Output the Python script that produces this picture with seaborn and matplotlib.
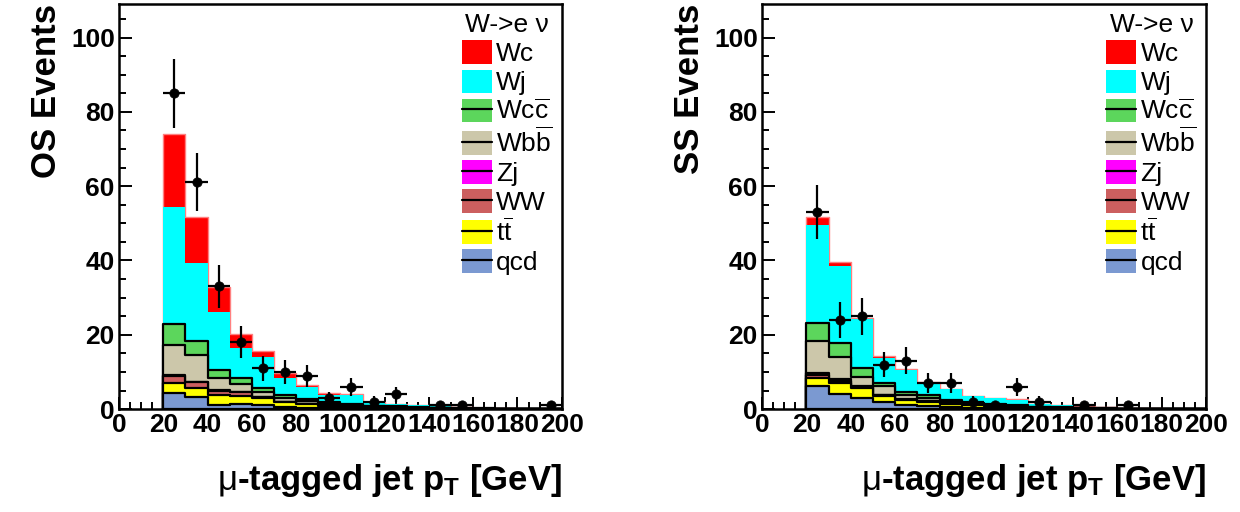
"""
OS / SS mu-tagged jet pT, W->e nu channel, stacked MC + data.
"""

import numpy as np
import matplotlib
matplotlib.use("Agg")
import matplotlib.pyplot as plt
import seaborn as sns
from matplotlib.patches import Patch
from matplotlib.lines import Line2D
from matplotlib.ticker import MultipleLocator

# ── Data ────────────────────────────────────────────────────────────────────
bin_edges = [20, 30, 40, 50, 60, 70, 80, 90, 100, 110, 120, 130, 140, 150,
             160, 170, 180, 190, 200]
bin_centers = [25, 35, 45, 55, 65, 75, 85, 95, 105, 115, 125, 135, 145, 155,
               165, 175, 185, 195]

# OS, per process (bottom -> top of the stack)
qcd_os = [4.2, 3.2, 1.1, 1.3, 1.0, 0.5, 0.4, 0.3, 0.2, 0.1, 0.1, 0.05, 0.05, 0.02, 0.02, 0.01, 0.01, 0.01]
tt_os  = [2.7, 2.6, 2.7, 2.2, 2.0, 1.3, 0.9, 0.6, 0.5, 0.3, 0.2, 0.15, 0.1, 0.08, 0.05, 0.04, 0.03, 0.02]
ww_os  = [2.0, 1.4, 1.1, 1.0, 0.2, 0.1, 0.1, 0.1, 0.1, 0.05, 0.05, 0.05, 0.05, 0.02, 0.01, 0.01, 0.0, 0.0]
zj_os  = [0.3, 0.2, 0.2, 0.2, 0.1, 0.1, 0.0, 0.0, 0.0, 0.0, 0.0, 0.0, 0.0, 0.0, 0.0, 0.0, 0.0, 0.0]
wbb_os = [8.0, 7.1, 3.2, 2.0, 1.4, 0.9, 0.8, 0.5, 0.4, 0.3, 0.2, 0.15, 0.1, 0.08, 0.05, 0.03, 0.02, 0.02]
wcc_os = [5.7, 3.9, 2.2, 1.7, 1.0, 0.9, 0.4, 0.3, 0.3, 0.2, 0.15, 0.1, 0.1, 0.05, 0.03, 0.02, 0.02, 0.01]
wj_os  = [31.5, 21.0, 15.5, 8.1, 8.2, 4.5, 3.4, 2.1, 2.2, 0.9, 0.55, 0.5, 0.35, 0.2, 0.12, 0.08, 0.06, 0.04]
wc_os  = [19.7, 12.3, 6.8, 3.7, 1.7, 1.3, 0.5, 0.3, 0.3, 0.15, 0.1, 0.1, 0.05, 0.05, 0.02, 0.01, 0.01, 0.0]

# SS, per process
qcd_ss = [6.2, 4.0, 2.9, 2.0, 1.1, 0.8, 0.6, 0.4, 0.3, 0.2, 0.1, 0.1, 0.05, 0.03, 0.02, 0.01, 0.01, 0.01]
tt_ss  = [2.3, 3.1, 2.7, 1.5, 1.3, 1.2, 0.8, 0.6, 0.4, 0.3, 0.2, 0.15, 0.1, 0.07, 0.05, 0.03, 0.02, 0.01]
ww_ss  = [0.8, 0.4, 0.3, 0.2, 0.1, 0.1, 0.05, 0.05, 0.05, 0.05, 0.02, 0.02, 0.01, 0.01, 0.0, 0.0, 0.0, 0.0]
zj_ss  = [0.5, 0.5, 0.2, 0.1, 0.1, 0.1, 0.05, 0.05, 0.05, 0.05, 0.03, 0.03, 0.02, 0.01, 0.01, 0.0, 0.0, 0.0]
wbb_ss = [8.6, 5.9, 2.6, 2.4, 1.2, 0.9, 0.5, 0.3, 0.3, 0.2, 0.15, 0.1, 0.07, 0.05, 0.03, 0.02, 0.01, 0.01]
wcc_ss = [4.9, 4.0, 2.3, 0.9, 0.7, 0.7, 0.4, 0.3, 0.2, 0.2, 0.1, 0.1, 0.05, 0.03, 0.02, 0.01, 0.01, 0.01]
wj_ss  = [26.3, 20.7, 13.3, 6.6, 6.0, 3.4, 2.9, 1.7, 1.6, 1.5, 0.7, 0.55, 0.35, 0.25, 0.15, 0.08, 0.05, 0.03]
wc_ss  = [2.1, 1.0, 0.3, 0.6, 0.2, 0.2, 0.2, 0.2, 0.1, 0.1, 0.05, 0.05, 0.05, 0.05, 0.02, 0.01, 0.0, 0.0]

# data points
os_data_pt = [25, 35, 45, 55, 65, 75, 85, 95, 105, 115, 125, 145, 155, 195]
os_data_n  = [85, 61, 33, 18, 11, 10, 9, 3, 6, 2, 4, 1, 1, 1]
ss_data_pt = [25, 35, 45, 55, 65, 75, 85, 95, 105, 115, 125, 145, 165]
ss_data_n  = [53, 24, 25, 12, 13, 7, 7, 2, 1, 6, 2, 1, 1]

process_names = ["qcd", "tt", "WW", "Zj", "Wbb", "Wcc", "Wj", "Wc"]  # bottom -> top
process_labels = {
    "Wc": "Wc", "Wj": "Wj", "Wcc": r"Wc$\overline{\mathrm{c}}$",
    "Wbb": r"Wb$\overline{\mathrm{b}}$", "Zj": "Zj", "WW": "WW",
    "tt": r"t$\overline{\mathrm{t}}$", "qcd": "qcd",
}
process_colors = {
    "Wc": "#ff0000", "Wj": "#00ffff", "Wcc": "#5cd65c", "Wbb": "#ccc7aa",
    "Zj": "#ff00ff", "WW": "#cc5f5f", "tt": "#ffff00", "qcd": "#7b99d1",
}
process_edges = {"Wc": "#ff8080", "Wj": "none"}

# ── Style ───────────────────────────────────────────────────────────────────
sns.set_style("ticks")
plt.rcParams["font.family"] = ["Liberation Sans", "DejaVu Sans"]
plt.rcParams["mathtext.fontset"] = "custom"
plt.rcParams["mathtext.rm"] = "Liberation Sans"
plt.rcParams["mathtext.it"] = "Liberation Sans:italic"
plt.rcParams["mathtext.bf"] = "Liberation Sans:bold"
plt.rcParams["text.color"] = "black"
plt.rcParams["axes.labelcolor"] = "black"
plt.rcParams["xtick.color"] = "black"
plt.rcParams["ytick.color"] = "black"


def draw_panel(ax, stack, data_pt, data_n, ylabel):
    cum = np.cumsum(np.array(stack), axis=0)
    # draw cumulative histograms from the top down, so lower outlines sit on top
    for i in range(len(process_names) - 1, -1, -1):
        name = process_names[i]
        ec = process_edges.get(name, "black")
        sns.histplot(x=bin_centers, weights=cum[i], bins=bin_edges,
                     element="step", fill=True, color=process_colors[name],
                     alpha=1, edgecolor=ec,
                     linewidth=1.0 if name == "Wc" else 1.6, ax=ax)

    err = np.sqrt(np.array(data_n, dtype=float))
    ax.errorbar(data_pt, data_n, yerr=err, xerr=5, fmt="none",
                ecolor="black", elinewidth=1.6, capsize=0, zorder=5)
    sns.scatterplot(x=data_pt, y=data_n, color="black", s=45,
                    edgecolor="black", zorder=6, ax=ax)

    ax.set_xlim(0, 200)
    ax.set_ylim(0, 109)
    ax.xaxis.set_major_locator(MultipleLocator(20))
    ax.xaxis.set_minor_locator(MultipleLocator(5))
    ax.yaxis.set_major_locator(MultipleLocator(20))
    ax.yaxis.set_minor_locator(MultipleLocator(5))
    ax.tick_params(which="both", direction="in", top=False, right=False,
                   width=1.4, colors="black")
    ax.tick_params(which="major", length=9, labelsize=19, pad=3)
    ax.tick_params(which="minor", length=5)
    for lab in ax.get_xticklabels() + ax.get_yticklabels():
        lab.set_fontweight("bold")
    for sp in ax.spines.values():
        sp.set_visible(True)
        sp.set_linewidth(1.8)
        sp.set_color("black")

    ax.set_ylabel(ylabel, fontsize=25, fontweight="bold", loc="top", labelpad=6)
    ax.set_xlabel(r"$\mathrm{\mu}$-tagged jet p$_\mathbf{T}$ [GeV]",
                  fontsize=25, fontweight="bold", loc="right", labelpad=18)

    # legend
    handles, labels = [], []
    for name in process_names[::-1]:
        patch = Patch(facecolor=process_colors[name], edgecolor="none")
        if name in ("Wc", "Wj"):
            handles.append(patch)
        else:
            handles.append((patch, Line2D([], [], color="black", lw=1.6)))
        labels.append(process_labels[name])
    leg = ax.legend(handles, labels, title="W->e ν", loc="upper right",
                    frameon=False, fontsize=19, title_fontsize=19,
                    handlelength=1.15, handleheight=1.0, handletextpad=0.15,
                    labelspacing=0.12, borderaxespad=0.15, borderpad=0.2)
    leg.set_zorder(10)


fig = plt.figure(figsize=(12.4, 5.12), dpi=100)
ax_os = fig.add_axes([0.096, 0.201, 0.357, 0.791])
ax_ss = fig.add_axes([0.6145, 0.201, 0.358, 0.791])

draw_panel(ax_os, [qcd_os, tt_os, ww_os, zj_os, wbb_os, wcc_os, wj_os, wc_os],
           os_data_pt, os_data_n, "OS Events")
draw_panel(ax_ss, [qcd_ss, tt_ss, ww_ss, zj_ss, wbb_ss, wcc_ss, wj_ss, wc_ss],
           ss_data_pt, ss_data_n, "SS Events")

fig.savefig("out.png", dpi=100)
